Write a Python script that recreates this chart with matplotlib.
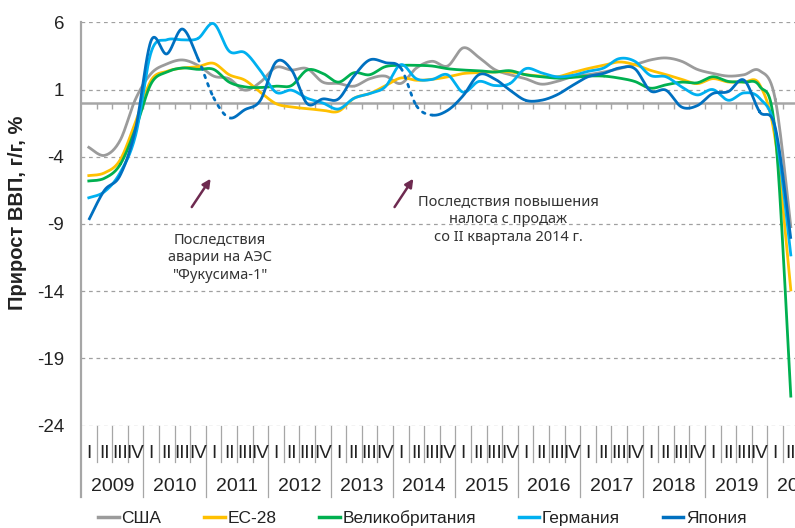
import numpy as np
import matplotlib
matplotlib.use("Agg")
import matplotlib.pyplot as plt
import matplotlib.transforms as mtransforms
from matplotlib.lines import Line2D

# --- данные: прирост ВВП г/г, %, 2009 I кв. - 2020 II кв.
years = ['2009', '2010', '2011', '2012', '2013', '2014', '2015',
         '2016', '2017', '2018', '2019', '2020']
quarters = ['I', 'II', 'III', 'IV']

usa = [-3.3, -3.9, -2.8, 0.3,
       2.2, 2.9, 3.2, 2.8,
       2.0, 1.8, 0.95, 1.55,
       2.65, 2.45, 2.55, 1.55,
       1.45, 1.25, 1.8, 2.0,
       1.45, 2.6, 3.1, 2.75,
       4.1, 3.4, 2.5, 2.1,
       1.8, 1.4, 1.6, 1.95,
       2.1, 2.3, 2.55, 2.85,
       3.2, 3.35, 3.1, 2.5,
       2.2, 2.0, 2.1, 2.4,
       0.3, -9.2]
eu28 = [-5.4, -5.2, -4.25, -1.4,
        1.7, 2.35, 2.6, 2.7,
        2.95, 2.1, 1.7, 0.8,
        -0.05, -0.3, -0.42, -0.54,
        -0.62, 0.35, 0.7, 1.27,
        1.86, 1.69, 1.76, 1.94,
        2.19, 2.26, 2.31, 2.31,
        2.11, 2.0, 1.94, 2.26,
        2.56, 2.8, 3.05, 2.85,
        2.43, 2.11, 1.76, 1.44,
        1.81, 1.56, 1.56, 1.37,
        -2.7, -13.9]
uk = [-5.8, -5.6, -4.6, -1.9,
      1.45, 2.3, 2.6, 2.5,
      2.5, 1.55, 1.2, 1.15,
      1.25, 1.3, 2.45, 2.2,
      1.55, 2.25, 2.1, 2.7,
      2.8, 2.8, 2.75, 2.55,
      2.45, 2.4, 2.3, 2.4,
      2.1, 1.95, 1.85, 1.9,
      2.0, 2.0, 1.85, 1.6,
      1.1, 1.35, 1.55, 1.5,
      1.95, 1.6, 1.55, 1.25,
      -2.2, -21.8]
germany = [-7.05, -6.6, -5.2, -2.4,
           3.8, 4.7, 4.7, 4.8,
           5.9, 3.85, 3.75, 2.4,
           0.8, 0.95, 0.35, 0.0,
           -0.45, 0.35, 0.7, 1.2,
           2.85, 1.8, 1.75, 2.1,
           0.8, 1.6, 1.3, 1.45,
           2.55, 2.25, 1.95, 2.05,
           2.35, 2.6, 3.3, 3.1,
           2.05, 1.95, 1.2, 0.6,
           1.0, 0.2, 0.75, 0.35,
           -2.0, -11.3]
japan = [-8.7, -6.5, -5.4, -1.9,
         4.65, 3.65, 5.5, 3.3,
         0.4, -1.1, -0.5, 0.2,
         3.05, 2.45, -0.05, 0.3,
         0.3, 2.0, 3.2, 3.0,
         2.6, -0.2, -0.9, -0.55,
         0.55, 2.1, 1.8, 0.95,
         0.2, 0.2, 0.6, 1.3,
         1.95, 2.2, 2.6, 2.55,
         0.9, 0.95, -0.3, -0.2,
         0.7, 0.85, 1.7, -0.65,
         -1.8, -10.1]
# отрезки, нарисованные пунктиром (индексы начальной точки)
japan_dotted = [7, 8, 20, 21]

series = [('США', usa, '#9B9B9B'),
          ('ЕС-28', eu28, '#FFC000'),
          ('Великобритания', uk, '#00B050'),
          ('Германия', germany, '#00B0F0'),
          ('Япония', japan, '#0070C0')]

W, H = 795, 528


def smooth_segments(y, n=24):
    """Сглаживание как в Excel (Catmull-Rom)"""
    x = np.arange(len(y)) + 0.5
    pts = np.column_stack([x, np.asarray(y, float)])
    ext = np.vstack([pts[0], pts, pts[-1]])
    t = np.linspace(0, 1, n)[:, None]
    segs = []
    for i in range(len(y) - 1):
        p0, p1, p2, p3 = ext[i], ext[i + 1], ext[i + 2], ext[i + 3]
        c = 0.5 * (2 * p1 + (-p0 + p2) * t
                   + (2 * p0 - 5 * p1 + 4 * p2 - p3) * t ** 2
                   + (-p0 + 3 * p1 - 3 * p2 + p3) * t ** 3)
        segs.append(c)
    return segs


fig = plt.figure(figsize=(W / 100, H / 100), dpi=100)
x0, x1 = 81, 81 + 46 * 15.6
ytop, ybot = 22.3, 425.7
ax = fig.add_axes([x0 / W, 1 - ybot / H, (x1 - x0) / W, (ybot - ytop) / H])
ax.set_xlim(0, 46)
ax.set_ylim(-24, 6)
for s in ax.spines.values():
    s.set_visible(False)

axis_col = '#A6A6A6'
yt = [6, 1, -4, -9, -14, -19, -24]
ax.set_yticks(yt)
ax.set_yticklabels([str(v) for v in yt], fontsize=13.5, family='Liberation Sans',
                   color='#222222')
ax.tick_params(axis='y', length=0, pad=12)
ax.set_xticks([])
for v in yt:
    ax.axhline(v, color='#A0A0A0', lw=0.9, ls=(0, (3, 3)), zorder=1)
ax.axhline(0, color=axis_col, lw=1.8, zorder=1)
ax.vlines(np.arange(1, 47), -0.42, 0, color=axis_col, lw=1.0, zorder=1)

for name, vals, col in series:
    segs = smooth_segments(vals)
    if name == 'Япония':
        solid = []
        cur = []
        for i, sg in enumerate(segs):
            if i in japan_dotted:
                if cur:
                    solid.append(np.vstack(cur))
                    cur = []
                ax.plot(sg[:, 0], sg[:, 1], color=col, lw=2.0, ls=(0, (1, 2.2)),
                        dash_capstyle='round', zorder=3)
            else:
                cur.append(sg)
        if cur:
            solid.append(np.vstack(cur))
        for p in solid:
            ax.plot(p[:, 0], p[:, 1], color=col, lw=2.0, zorder=3,
                    solid_capstyle='butt')
    else:
        p = np.vstack(segs)
        ax.plot(p[:, 0], p[:, 1], color=col, lw=2.0, zorder=2)

# --- аннотации
arrow_col = '#6E2A50'
ax.annotate('', xy=(8.31, -5.63), xytext=(7.1, -7.74),
            arrowprops=dict(arrowstyle='-|>', color=arrow_col, lw=1.8,
                            mutation_scale=12, shrinkA=0, shrinkB=0))
ax.annotate('', xy=(21.3, -5.63), xytext=(20.1, -7.74),
            arrowprops=dict(arrowstyle='-|>', color=arrow_col, lw=1.8,
                            mutation_scale=12, shrinkA=0, shrinkB=0))
ax.text(8.9, -11.5, 'Последствия\nаварии на АЭС\n"Фукусима-1"', ha='center',
        va='center', fontsize=10.5, family='Noto Sans', color='#333333',
        linespacing=1.25)
ax.text(27.4, -8.65, 'Последствия повышения\nналога с продаж\nсо II квартала 2014 г.',
        ha='center', va='center', fontsize=10.5, family='Noto Sans',
        color='#333333', linespacing=1.25)

# --- подписи оси X (кварталы и годы)
tr = mtransforms.blended_transform_factory(ax.transData, fig.transFigure)


def fy(py):
    return 1 - py / H


for b in range(1, 47):
    low = 497 if b % 4 == 0 else 461.7
    ax.add_line(Line2D([b, b], [fy(ybot), fy(low)], transform=tr, color=axis_col,
                       lw=0.9, clip_on=False))
fig.add_artist(Line2D([x0 / W, x0 / W], [fy(ytop), fy(497)], color=axis_col, lw=1.6))

for i in range(46):
    ax.text(i + 0.5, fy(453), quarters[i % 4], transform=tr, ha='center',
            va='center', fontsize=13.5, family='Liberation Sans', color='#222222',
            clip_on=False)
for k, yr in enumerate(years):
    ax.text(4 * k + 2, fy(486.5), yr, transform=tr, ha='center', va='center',
            fontsize=14, family='Liberation Sans', color='#222222', clip_on=False)

# --- подпись оси Y
fig.text(18 / W, fy(213), 'Прирост ВВП, г/г, %', rotation=90, ha='center',
         va='center', fontsize=14.5, fontweight='bold', family='Liberation Sans',
         color='#222222')

# --- легенда
handles = [Line2D([], [], color=c, lw=2.5) for _, _, c in series]
labels = [n for n, _, _ in series]
fig.legend(handles, labels, loc='center left', bbox_to_anchor=(98 / W, fy(518)),
           ncol=5, frameon=False, borderpad=0, borderaxespad=0,
           handlelength=1.2, handletextpad=0.15, columnspacing=2.45,
           prop={'family': 'Liberation Sans', 'size': 12.5},
           labelcolor='#222222')

fig.savefig('out.png', dpi=100)
